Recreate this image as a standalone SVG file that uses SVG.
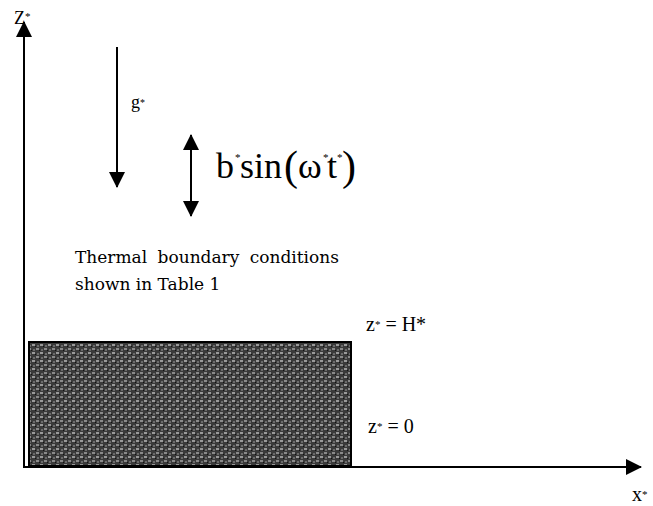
<svg xmlns="http://www.w3.org/2000/svg" width="653" height="506" viewBox="0 0 653 506">
<style>
.t{font-family:"Liberation Serif","DejaVu Serif",serif;fill:#000}
.w{font-family:"DejaVu Serif","Liberation Serif",serif;fill:#000}
.ln{stroke:#000;stroke-width:2;fill:none}
</style>
<defs>
<marker id="ah" markerWidth="16" markerHeight="16" refX="15" refY="8" orient="auto" markerUnits="userSpaceOnUse">
<path d="M0,0 L16,8 L0,16 Z" fill="#000"/>
</marker>
<marker id="ahs" markerWidth="16" markerHeight="16" refX="15" refY="8" orient="auto-start-reverse" markerUnits="userSpaceOnUse">
<path d="M0,0 L16,8 L0,16 Z" fill="#000"/>
</marker>
<pattern id="tex" width="8" height="8" patternUnits="userSpaceOnUse">
<rect width="8" height="8" fill="#3a3a3a"/>
<rect x="0" y="0" width="3" height="2" fill="#9a9a9a"/>
<rect x="4" y="4" width="3" height="2" fill="#8a8a8a"/>
<rect x="5" y="1" width="2" height="2" fill="#6a6a6a"/>
<rect x="1" y="5" width="2" height="2" fill="#6a6a6a"/>
<rect x="3" y="2" width="1" height="1" fill="#111"/>
<rect x="7" y="6" width="1" height="1" fill="#111"/>
</pattern>
</defs>
<rect width="653" height="506" fill="#fff"/>
<g id="layer">
<rect x="29" y="342" width="322" height="124" fill="url(#tex)" stroke="#000" stroke-width="2"/>
</g>
<g id="connectors">
<line class="ln" x1="24" y1="467" x2="24" y2="22" marker-end="url(#ah)"/>
<line class="ln" x1="23" y1="467" x2="641" y2="467" marker-end="url(#ah)"/>
<line class="ln" x1="117" y1="47" x2="117" y2="187" marker-end="url(#ah)"/>
<line class="ln" x1="191" y1="135" x2="191" y2="216" marker-start="url(#ahs)" marker-end="url(#ah)"/>
</g>
<g id="labels">
<text class="t" x="14" y="24" font-size="18">Z<tspan font-size="11" dy="-4">*</tspan></text>
<text class="t" x="131" y="108" font-size="18">g<tspan font-size="10" dy="-2">*</tspan></text>
<text class="t" y="178" font-size="36"><tspan x="216">b</tspan><tspan x="235" font-size="11" dy="-17">*</tspan><tspan x="240" dy="17">sin</tspan><tspan x="284" font-size="42" dy="2">(</tspan><tspan x="298" dy="-2">ω</tspan><tspan x="323" font-size="11" dy="-17">*</tspan><tspan x="327" dy="17">t</tspan><tspan x="337" font-size="11" dy="-17">*</tspan><tspan x="342" font-size="42" dy="19">)</tspan></text>
<text class="w" x="75" y="263" font-size="17" word-spacing="5">Thermal boundary conditions</text>
<text class="w" x="75" y="290" font-size="17">shown in Table 1</text>
<text class="t" x="366" y="331" font-size="20">z<tspan font-size="11" dy="-3">*</tspan><tspan dy="3"> = H*</tspan></text>
<text class="t" x="368" y="433" font-size="20">z<tspan font-size="11" dy="-3">*</tspan><tspan dy="3"> = 0</tspan></text>
<text class="t" x="632" y="501" font-size="20">x<tspan font-size="11" dy="-3">*</tspan></text>
</g>
</svg>
